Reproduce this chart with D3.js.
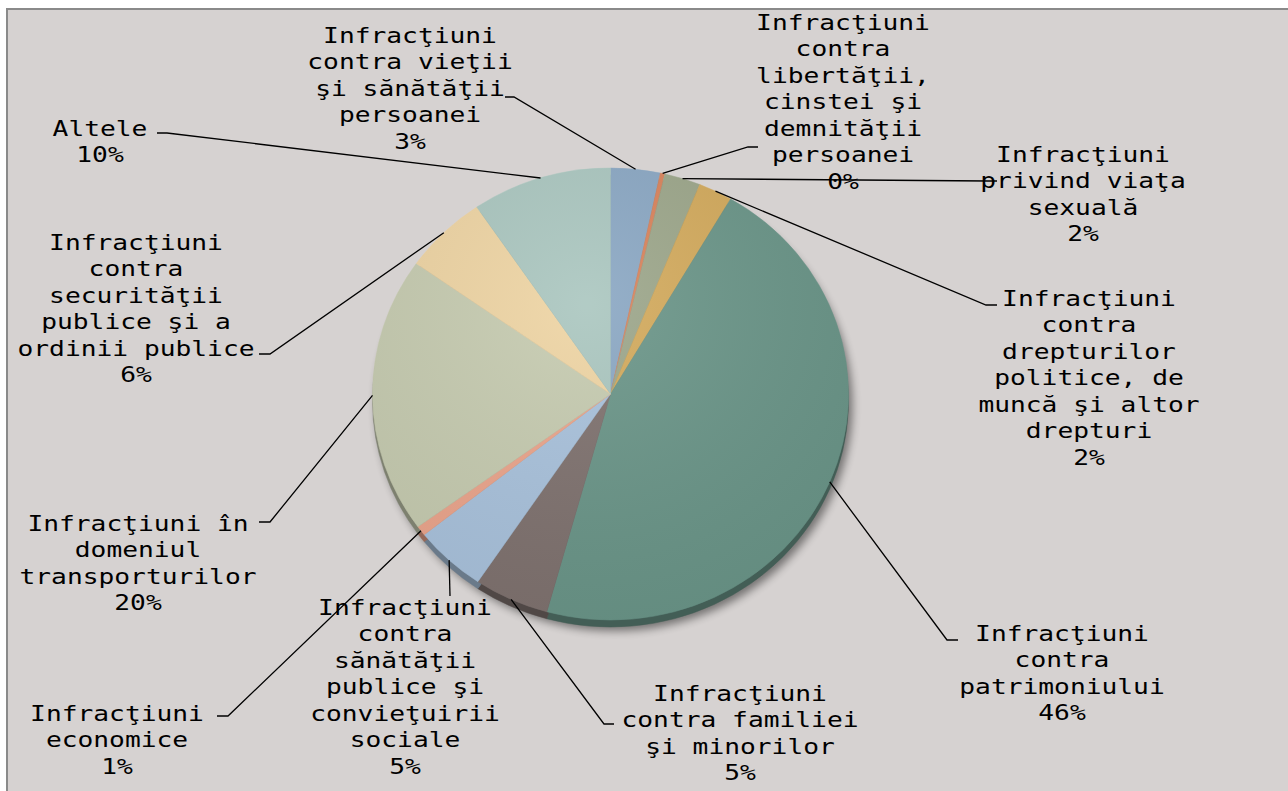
<!DOCTYPE html>
<html><head><meta charset="utf-8">
<script src="https://cdn.jsdelivr.net/npm/d3@7/dist/d3.min.js"></script>
<style>
html,body{margin:0;padding:0;background:#fff;}
svg{display:block;}
text{font-family:"DejaVu Sans Mono",monospace;font-size:21px;fill:#000;}
</style></head>
<body>
<svg id="chart" width="1288" height="791"></svg>
<script>
// ---- data ----
const categories = [
  ["Infracţiuni","contra vieţii","şi sănătăţii","persoanei"],
  ["Infracţiuni","contra","libertăţii,","cinstei şi","demnităţii","persoanei"],
  ["Infracţiuni","privind viaţa","sexuală"],
  ["Infracţiuni","contra","drepturilor","politice, de","muncă şi altor","drepturi"],
  ["Infracţiuni","contra","patrimoniului"],
  ["Infracţiuni","contra familiei","şi minorilor"],
  ["Infracţiuni","contra","sănătăţii","publice şi","convieţuirii","sociale"],
  ["Infracţiuni","economice"],
  ["Infracţiuni în","domeniul","transporturilor"],
  ["Infracţiuni","contra","securităţii","publice şi a","ordinii publice"],
  ["Altele"]
];
const values = [3.36, 0.31, 2.45, 2.3, 45.9, 5.1, 4.9, 0.7, 19.8, 5.7, 9.5];
const pctLabels = ["3%","0%","2%","2%","46%","5%","5%","1%","20%","6%","10%"];
const colors = ["#8aa7c3","#d9825a","#9ca68a","#d3aa5c","#6a9588","#7f726f","#a9c2dc","#eba58c","#c6cbb0","#eed4a3","#aac6bf"];

// ---- layout (label placement, leader elbows) ----
const labelLayout = [
  {cx:410, y:43,  elbow:[514,97],  end:[505,97]},
  {cx:843, y:30,  elbow:[748,147], end:[758,147]},
  {cx:1083,y:162, elbow:[988,181], end:[997,181]},
  {cx:1089,y:306, elbow:[986,305], end:[997,305]},
  {cx:1062,y:641, elbow:[947,640], end:[958,640]},
  {cx:740, y:701, elbow:[604,724], end:[614,724]},
  {cx:405, y:615, elbow:[450,596], end:[450,596]},
  {cx:117, y:721, elbow:[228,716], end:[217,716]},
  {cx:138, y:531, elbow:[270,522], end:[259,522]},
  {cx:136, y:250, elbow:[270,354], end:[259,354]},
  {cx:100, y:136, elbow:[167,133], end:[157,133]}
];

const W = 1288, H = 791;
const svg = d3.select("#chart");
const defs = svg.append("defs");

// frame
svg.append("rect").attr("x",7).attr("y",9).attr("width",W).attr("height",H)
  .attr("fill","#d6d2d1").attr("stroke","#8a8a8a").attr("stroke-width",2);

const cx = 610.5, cy = 394, R = 238, ky = 226/238, depth = 7;

const data = values.map((v,i)=>({v, i}));
const pie = d3.pie().sort(null).value(d=>d.v).startAngle(0).endAngle(2*Math.PI);
const arcs = pie(data);
const arc = d3.arc().innerRadius(0).outerRadius(R);

// shadow
const f = defs.append("filter").attr("id","blur").attr("x","-20%").attr("y","-20%").attr("width","140%").attr("height","140%");
f.append("feGaussianBlur").attr("stdDeviation",4);
svg.append("ellipse").attr("cx",cx+4).attr("cy",cy+depth+4).attr("rx",R).attr("ry",R*ky)
  .attr("fill","#000").attr("opacity",0.45).attr("filter","url(#blur)");

// side (depth)
const sideG = svg.append("g").attr("transform",`translate(${cx},${cy+depth}) scale(1,${ky})`);
sideG.selectAll("path").data(arcs).join("path")
  .attr("d",arc).attr("fill",d=>d3.color(colors[d.data.i]).darker(1.3))
  .attr("stroke",d=>d3.color(colors[d.data.i]).darker(1.3)).attr("stroke-width",0.5);

// top face
const faceG = svg.append("g").attr("transform",`translate(${cx},${cy}) scale(1,${ky})`);
faceG.selectAll("path").data(arcs).join("path")
  .attr("d",arc).attr("fill",d=>colors[d.data.i])
  .attr("stroke",d=>colors[d.data.i]).attr("stroke-width",0.5);

// subtle lighting
const rg = defs.append("radialGradient").attr("id","light").attr("cx","45%").attr("cy","30%").attr("r","75%");
rg.append("stop").attr("offset","0%").attr("stop-color","#fff").attr("stop-opacity",0.10);
rg.append("stop").attr("offset","100%").attr("stop-color","#000").attr("stop-opacity",0.06);
svg.append("ellipse").attr("cx",cx).attr("cy",cy).attr("rx",R).attr("ry",R*ky).attr("fill","url(#light)");

// leader lines
arcs.forEach((a,k)=>{
  const L = labelLayout[k];
  const m = (a.startAngle + a.endAngle)/2;
  const px = cx + R*Math.sin(m), py = cy - R*ky*Math.cos(m);
  svg.append("polyline")
    .attr("points",[[px,py],L.elbow,L.end].map(p=>p.join(",")).join(" "))
    .attr("fill","none").attr("stroke","#000").attr("stroke-width",1.3);
});

// labels
const lh = 26.5;
arcs.forEach((a,k)=>{
  const L = labelLayout[k];
  const lines = categories[a.data.i].concat([pctLabels[a.data.i]]);
  const g = svg.append("g").attr("transform",`translate(${L.cx},${L.y}) scale(1.25,1)`);
  g.selectAll("text").data(lines).join("text")
    .attr("x",0).attr("y",(d,j)=>j*lh).attr("text-anchor","middle").text(d=>d);
});
</script>
</body></html>
